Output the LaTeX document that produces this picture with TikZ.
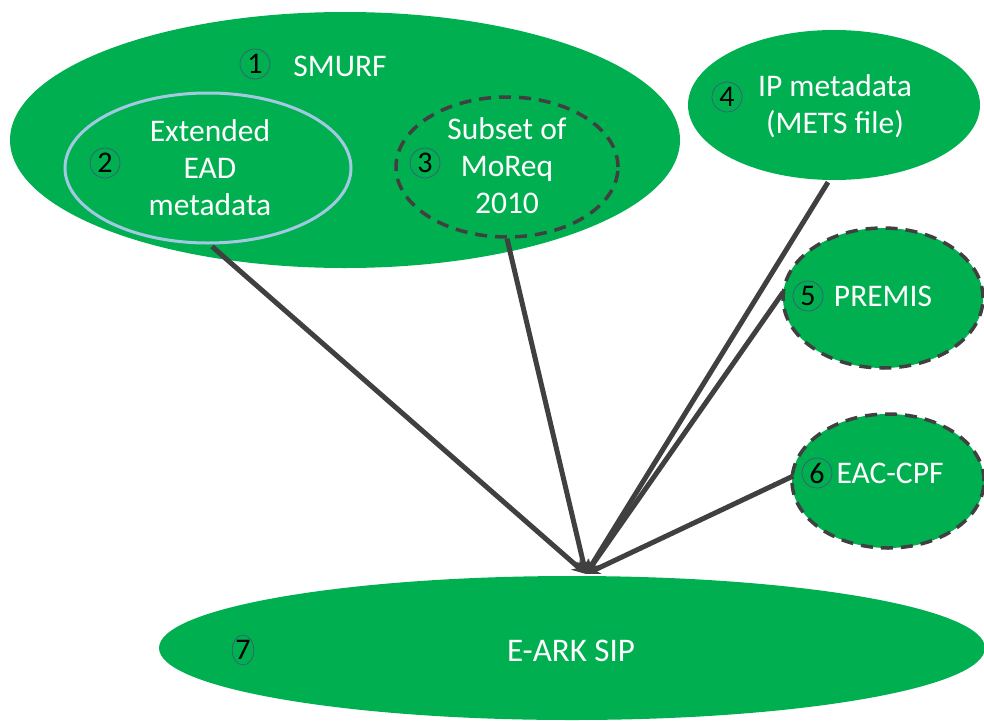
\documentclass[tikz,border=0pt]{standalone}
\usepackage{fontspec}
\setmainfont{Carlito}
\usetikzlibrary{shapes.geometric,arrows.meta}
\definecolor{grn}{HTML}{00AF50}
\definecolor{dgray}{HTML}{404040}
\definecolor{lblue}{HTML}{A3C9E2}
\definecolor{ringc}{HTML}{3E5A78}
\tikzset{
  blob/.style={ellipse, fill=grn, inner sep=0pt},
  dashedblob/.style={blob, draw=dgray, line width=3.5pt, dash pattern=on 12pt off 8pt},
  lbl/.style={text=white, font=\fontsize{31.5}{37}\selectfont, align=center, inner sep=0pt},
  numc/.style={circle, draw=ringc, line width=0.7pt, minimum size=30pt, inner sep=0pt, font=\fontsize{30}{30}\selectfont, text=black},
  conn/.style={draw=dgray, line width=5pt, -{Stealth[length=14pt,width=13pt]}}
}
\begin{document}
\begin{tikzpicture}[x=1pt,y=-1pt]
\useasboundingbox (0,0) rectangle (984,720);
% shapes
\node[blob, minimum width=670pt, minimum height=256pt] (e1) at (345,140) {};
\node[blob, draw=lblue, line width=3pt, minimum width=286pt, minimum height=150pt] (e2) at (208,168) {};
\node[dashedblob, minimum width=222pt, minimum height=140pt] (e3) at (507,167) {};
\node[blob, minimum width=292pt, minimum height=150pt] (e4) at (834,105) {};
\node[dashedblob, minimum width=200pt, minimum height=140pt] (e5) at (883,298) {};
\node[dashedblob, minimum width=192pt, minimum height=134pt] (e6) at (888,481) {};
\node[blob, minimum width=826pt, minimum height=144pt] (e7) at (572,648) {};
% labels
\node[lbl] (t1) at (340,66) {SMURF};
\node[lbl] (t2) at (210,168) {Extended\\EAD\\metadata};
\node[lbl] (t3) at (507,166) {Subset of\\MoReq\\2010};
\node[lbl] (t4) at (835,106) {IP metadata\\(METS file)};
\node[lbl] (t5) at (883,296) {PREMIS};
\node[lbl] (t6) at (890,473) {EAC-CPF};
\node[lbl, font=\fontsize{33}{38}\selectfont] (t7) at (571,651) {E-ARK SIP};
% numbers
\node[numc] (n1) at (255,64) {1};
\node[numc] (n2) at (105,163) {2};
\node[numc] (n3) at (425,163) {3};
\node[numc] (n4) at (727,97) {4};
\node[numc] (n5) at (808,296) {5};
\node[numc] (n6) at (817,473) {6};
\node[numc, minimum width=20pt, minimum height=30pt, ellipse] (n7) at (243,650) {7};
% connectors
\coordinate (tip) at (586,574);
\draw[conn] (e2.south) ++(4,2) -- (tip);
\draw[conn] (e3.south) -- (tip);
\draw[conn] (e4.south) ++(-6,2) -- (tip);
\draw[conn] (e5.west) ++(2,-6) -- (tip);
\draw[conn] (e6.west) ++(3,-5) -- (tip);
\end{tikzpicture}
\end{document}
